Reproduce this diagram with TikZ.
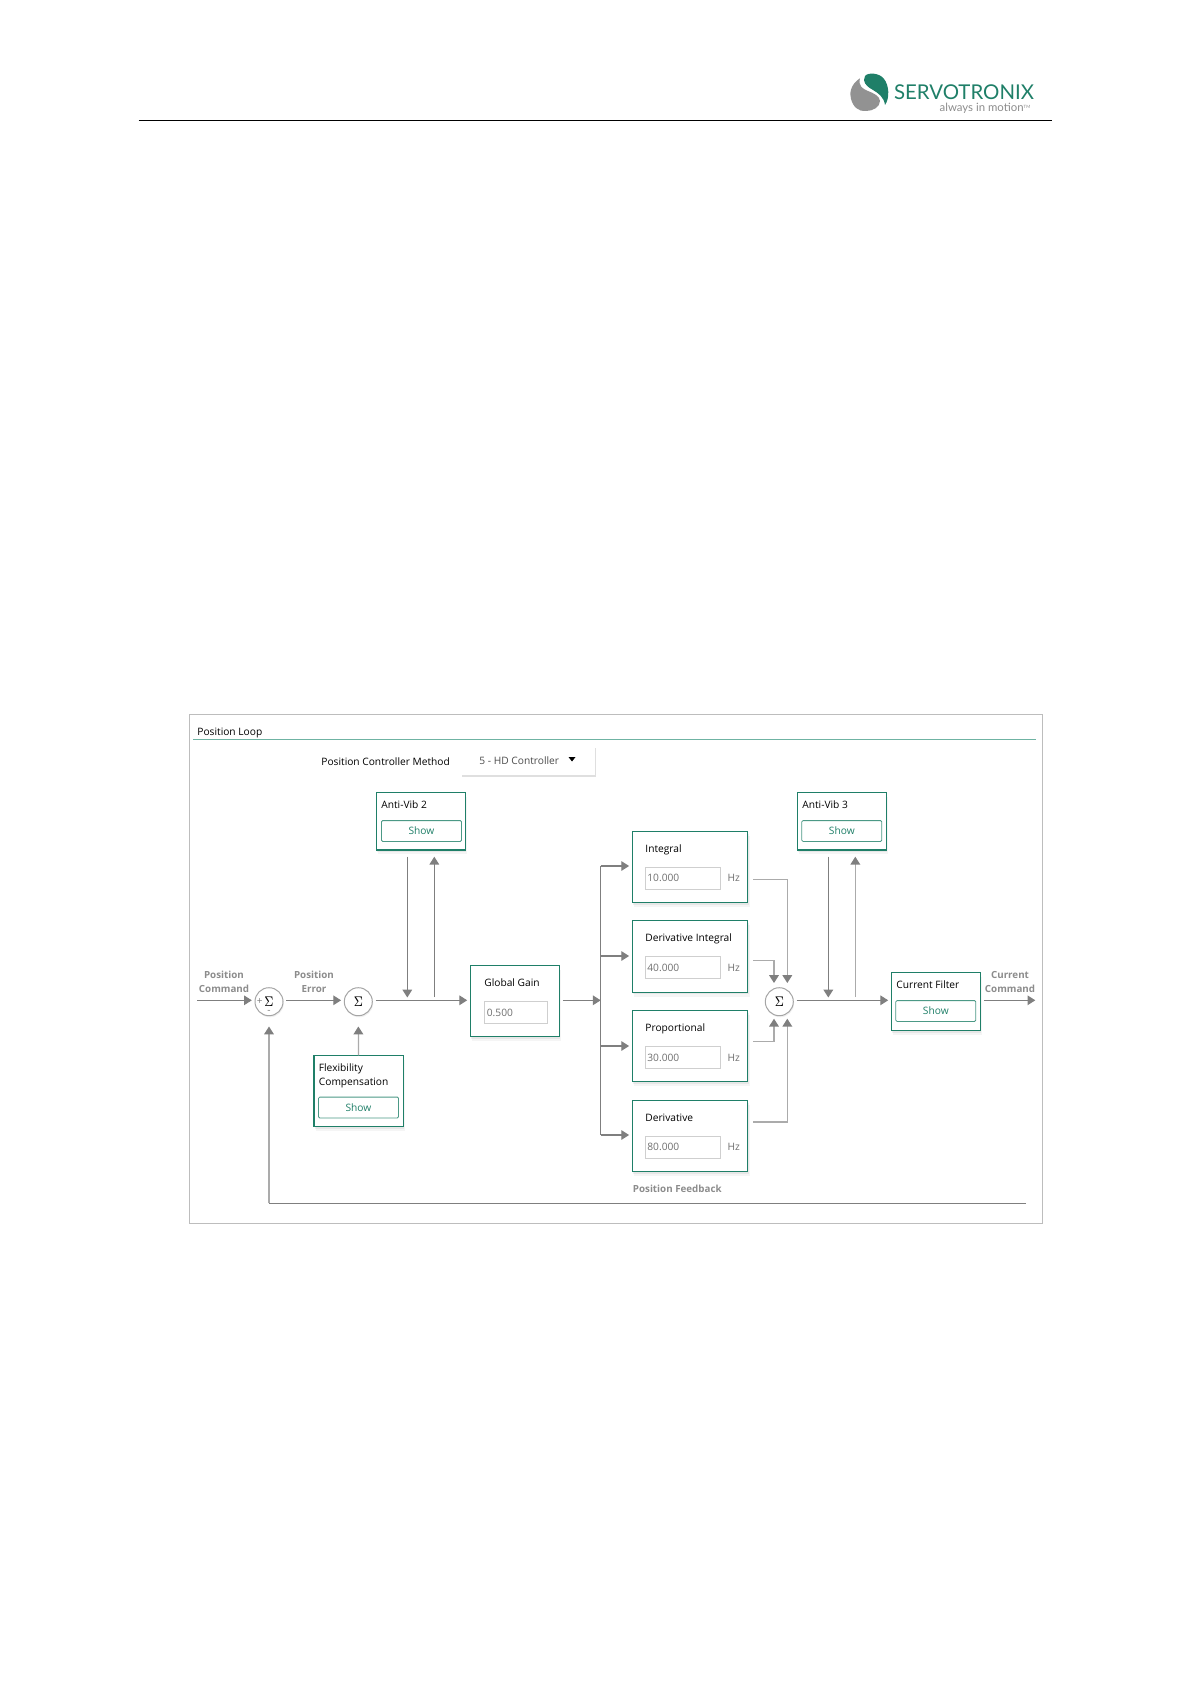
\documentclass[tikz,border=0pt]{standalone}
\usepackage{fontspec}
\setmainfont{Open Sans}
\newfontfamily\logofont{Lato}
\usetikzlibrary{arrows.meta,shadows}
\definecolor{servogreen}{HTML}{1F7F68}
\definecolor{rulegreen}{HTML}{6FB3A3}
\definecolor{flowgray}{HTML}{7F7F7F}
\definecolor{paleflow}{HTML}{ABABAB}
\definecolor{framegray}{HTML}{BDBDBD}
\definecolor{inputgray}{HTML}{CFCFCF}
\definecolor{valuegray}{HTML}{6E6E6E}
\definecolor{tagline}{HTML}{8C8C8C}
\tikzset{
  softshadow/.style={drop shadow={opacity=0.08,shadow xshift=0.9pt,shadow yshift=-2.2pt},drop shadow={opacity=0.12,shadow xshift=0.4pt,shadow yshift=-1.1pt}},
  ctrlbox/.style={draw=servogreen,line width=0.6pt,fill=white,inner sep=0pt,outer sep=1.6pt,softshadow},
  filterbox/.style={ctrlbox,minimum width=44.6pt,minimum height=28.9pt},
  pidbox/.style={ctrlbox,minimum width=57.7pt,minimum height=35.7pt},
  showbtn/.style={draw=servogreen!80,rounded corners=0.6pt,line width=0.4pt,fill=white,inner sep=0pt,minimum width=40pt,minimum height=10.4pt,text=servogreen,font=\fontsize{5.1}{6}\selectfont},
  inputbox/.style={draw=inputgray,line width=0.5pt,fill=white,inner sep=0pt,minimum height=11pt},
  boxtitle/.style={anchor=base west,inner sep=0pt,font=\fontsize{5.1}{6}\selectfont},
  valuetext/.style={anchor=base west,inner sep=0pt,text=valuegray,font=\fontsize{5.1}{6}\selectfont},
  sumnode/.style={circle,draw=flowgray!70,line width=0.5pt,fill=white,minimum size=14pt,inner sep=0pt,outer sep=1.6pt,font=\fontsize{4.2}{5}\selectfont,drop shadow={opacity=0.12,shadow xshift=0.4pt,shadow yshift=-0.8pt}},
  signaltag/.style={align=center,inner sep=0pt,text=tagline,font=\fontsize{4.9}{7}\selectfont\bfseries},
  flow/.style={->,draw=flowgray,line width=0.55pt},
  paleline/.style={->,draw=paleflow,line width=0.6pt}
}
\newcommand{\sumglyph}{\scalebox{1}[1.4]{$\Sigma$}}
\begin{document}
\begin{tikzpicture}[x=0.5pt,y=-0.5pt,>={Triangle[length=3.9pt,width=4.8pt,color=flowgray]}]
\useasboundingbox (0,0) rectangle (1191,1684);
% page header
\draw[line width=0.55pt] (138.5,120.3) -- (1051.5,120.3);
\fill[flowgray!85] (860,78.3) .. controls (851,84) and (849,93) .. (851,99) .. controls (853,107) and (859,112) .. (866,111) .. controls (873,111) and (880,107) .. (880,101) .. controls (880,96) and (873,93) .. (868,91) .. controls (862,89) and (858,85) .. (860,78.3) -- cycle;
\fill[servogreen] (865,76) .. controls (868,72) and (880,73) .. (884,79) .. controls (889,85) and (890,98) .. (885,105) .. controls (884,97) and (878,93) .. (873,90) .. controls (866,86) and (862,82) .. (865,76) -- cycle;
\node[inner sep=0pt,text=servogreen,font=\logofont\fontsize{10.2}{11}\selectfont] (brand) at (964,92) {SERVOTRONIX};
\node[inner sep=0pt,text=tagline,font=\logofont\fontsize{5.7}{7}\selectfont] (motto) at (985,108.5) {always in motion\raisebox{1.6pt}{\fontsize{2.2}{3}\selectfont TM}};
% panel
\draw[framegray,line width=0.5pt] (189.5,714.7) rectangle (1042.7,1223);
\node[boxtitle] (paneltitle) at (197,735) {Position Loop};
\draw[rulegreen,line width=0.5pt] (193,739.3) -- (1036,739.3);
\node[boxtitle] (methodlabel) at (321,765.7) {Position Controller Method};
\node[fill=white,inner sep=0pt,minimum width=67pt,minimum height=14.5pt,drop shadow={opacity=0.25,shadow xshift=0.3pt,shadow yshift=-0.8pt}] (methodbox) at (528,760.5) {};
\node[boxtitle,text=black!70] (methodtext) at (479,764) {5 - HD Controller};
\fill (568.5,757) -- (575.5,757) -- (572,761.5) -- cycle;
% sums
\node[sumnode] (sumA) at (269,1001.7) {\sumglyph};
\node[sumnode] (sumB) at (358.3,1001.7) {\sumglyph};
\node[sumnode] (sumC) at (779.3,1001.7) {\sumglyph};
\node[inner sep=0pt,text=flowgray,font=\fontsize{5}{5}\selectfont] (plusA) at (259.7,1002) {+};
\node[inner sep=0pt,text=flowgray,font=\fontsize{5}{5}\selectfont] (minusA) at (269,1011.5) {-};
% notch filters and gain
\node[filterbox] (vibTwo) at (420.8,821) {};
\node[boxtitle] (vibTwoTitle) at (381,808) {Anti-Vib 2};
\node[showbtn] (vibTwoShow) at (421.5,831) {Show};
\node[filterbox] (vibThree) at (842,821) {};
\node[boxtitle] (vibThreeTitle) at (802,808) {Anti-Vib 3};
\node[showbtn] (vibThreeShow) at (841.8,831) {Show};
\node[filterbox] (filterBox) at (936,1001.5) {};
\node[boxtitle] (filterTitle) at (896,988) {Current Filter};
\node[showbtn] (filterShow) at (935.8,1011) {Show};
\node[filterbox,minimum height=35.7pt] (flexBox) at (358.5,1091) {};
\node[boxtitle,anchor=west,align=left,font=\fontsize{5.1}{7.2}\selectfont] (flexTitle) at (318.5,1076) {Flexibility\\Compensation};
\node[showbtn] (flexShow) at (358.5,1107.5) {Show};
\node[filterbox,minimum height=35.7pt] (gainBox) at (515,1001) {};
\node[boxtitle] (gainTitle) at (484,986) {Global Gain};
\node[inputbox,minimum width=31.5pt] (gainInput) at (515.5,1012.5) {};
\node[valuetext] (gainValue) at (486.5,1016.7) {0.500};
% PID branches
\foreach \pid/\label/\val/\yy/\inputy in {pidI/Integral/10.000/867/878,pidDI/Derivative Integral/40.000/956.5/967.5,pidP/Proportional/30.000/1046/1057.5,pidD/Derivative/80.000/1136/1147}{
  \node[pidbox] (\pid) at (690,\yy) {};
  \node[boxtitle] (\pid Title) at (645,\yy-15) {\label};
  \node[inputbox,minimum width=37.8pt] (\pid Input) at (683,\inputy) {};
  \node[valuetext] (\pid Value) at (647,\inputy+3.7) {\val};
  \node[valuetext] (\pid Unit) at (727.3,\inputy+3.7) {Hz};
}
\coordinate (busTop) at (600.7,866);
\coordinate (busMid) at (600.7,1000.3);
\coordinate (busBot) at (600.7,1135);
\draw[flowgray,line width=0.55pt] (busTop) -- (busBot);
\foreach \pid/\yy in {pidI/866,pidDI/956,pidP/1046,pidD/1135}{
  \coordinate (\pid In) at (600.7,\yy);
  \draw[flow] (\pid In) -- (\pid.west |- \pid In);
}
\draw[flow] (gainBox.east |- busMid) -- (busMid);
% signal path
\coordinate (cmdStart) at (197,1000.3);
\coordinate (cmdEnd) at (1035.3,1000.3);
\coordinate (feedStart) at (1026,1203.3);
\coordinate (feedCorner) at (269,1203.3);
\draw[flow] (cmdStart) -- (sumA.west |- cmdStart);
\draw[flow] (sumA.east |- cmdStart) -- (sumB.west |- cmdStart);
\draw[flow] (sumB.east |- cmdStart) -- (gainBox.west |- cmdStart);
\draw[flow] (sumC.east |- cmdStart) -- (filterBox.west |- cmdStart);
\draw[flow] (filterBox.east |- cmdEnd) -- (cmdEnd);
\draw[paleline,shorten >=3.8pt] (feedCorner) -- (sumA.south);
\draw[flowgray,line width=0.55pt] (feedStart) -- (feedCorner);
\draw[paleline,shorten >=3.8pt,shorten <=-1.6pt] (flexBox.north) -- (sumB.south);
% anti-vib taps
\foreach \vib/\xdown/\xup/\upstyle in {vibTwo/407.3/434.3/flow,vibThree/828.3/855.3/paleline}{
  \coordinate (\vib Down) at (\xdown,997.5);
  \coordinate (\vib Up) at (\xup,997);
  \draw[flow,shorten <=1.8pt] (\vib.south -| \vib Down) -- (\vib Down);
  \draw[\upstyle,shorten >=1.8pt] (\vib Up) -- (\vib.south -| \vib Up);
}
% into third sum
\coordinate (topOuter) at (787.3,983);
\coordinate (topInner) at (774,983);
\coordinate (botOuter) at (787.3,1018.7);
\coordinate (botInner) at (774,1018.7);
\draw[paleline,shorten <=1.2pt] (pidI.east |- 0,879.7) -| (topOuter);
\draw[paleline,shorten <=1.2pt] (pidDI.east |- 0,960.7) -| (topInner);
\draw[paleline,shorten <=1.2pt] (pidP.east |- 0,1041.7) -| (botInner);
\draw[paleline,shorten <=1.2pt] (pidD.east |- 0,1122) -| (botOuter);
% signal names
\node[signaltag] (cmdTag) at (224,982) {Position\\Command};
\node[signaltag] (errTag) at (314,982) {Position\\Error};
\node[signaltag] (outTag) at (1010,982) {Current\\Command};
\node[signaltag,anchor=west] (feedTag) at (632.5,1188.5) {Position Feedback};
\end{tikzpicture}
\end{document}
